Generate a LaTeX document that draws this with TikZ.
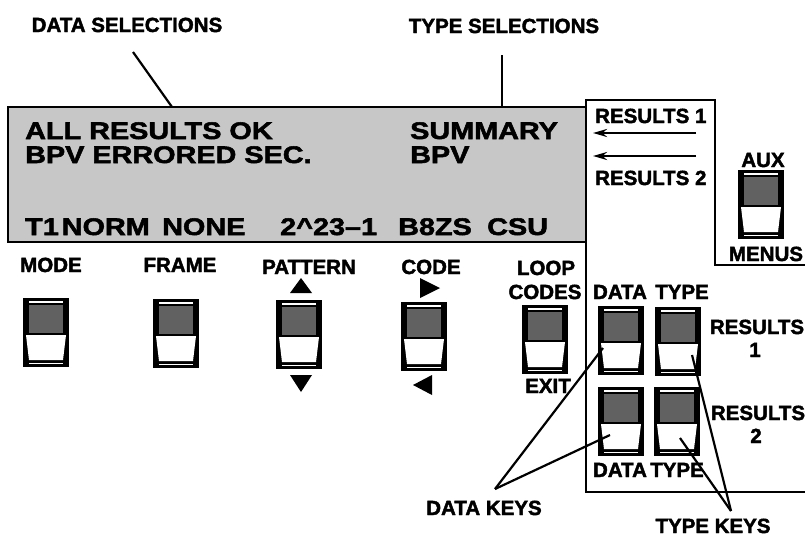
\documentclass[tikz,border=0pt]{standalone}
\usepackage{fontspec}
\newfontfamily\labfont{Liberation Sans}[BoldFeatures={FakeBold=2}]
\newfontfamily\dispfont{Liberation Sans}[FakeStretch=1.2, BoldFeatures={FakeBold=2.2}]
\usetikzlibrary{arrows.meta}
\begin{document}
\begin{tikzpicture}[x=1pt,y=-1pt,
  lab/.style={font=\labfont\bfseries\fontsize{20.5}{24}\selectfont, inner sep=0pt, anchor=base},
  disp/.style={font=\dispfont\bfseries\fontsize{24}{28}\selectfont, inner sep=0pt, anchor=base west},
  ldr/.style={line width=2.2pt},
  panelline/.style={line width=2.5pt},
  resarrow/.style={line width=2.5pt, -{Stealth[length=14pt,width=8pt]}},
  pics/keybtn/.style={code={
    \fill[black] (0,0) rectangle (46,69);
    \fill[black!62] (6,7) rectangle (40,35);
    \draw[white, line width=1.2pt] (6,4) -- (40,4);
    \fill[white] (3,37) -- (43,37) -- (40,62) -- (6,62) -- cycle;
    \draw[white, line width=1.2pt] (6,65.5) -- (40,65.5);
    \coordinate (-c) at (23,34.5);
  }}
]
\useasboundingbox (0,0) rectangle (805,536);

% display
\node[draw, fill=black!22, panelline, minimum width=578pt, minimum height=135pt, inner sep=0pt] (display) at (297,174.5) {};
\node[disp] (l1a) at (25,139) {ALL RESULTS OK};
\node[disp] (l1b) at (410,139) {SUMMARY};
\node[disp] (l2a) at (25,163) {BPV ERRORED SEC.};
\node[disp] (l2b) at (410,163) {BPV};
\node[disp] (l3a) at (25,235) {T1\kern3pt NORM};
\node[disp] (l3b) at (162,235) {NONE};
\node[disp] (l3c) at (280,235) {2\textasciicircum 23–1};
\node[disp] (l3d) at (398,235) {B8ZS};
\node[disp] (l3e) at (487,235) {CSU};

% right panel outline
\fill[white] (586,100) rectangle (715,265);
\draw[panelline] (805,492) -- (586,492) -- (586,100) -- (715,100) -- (715,265) -- (805,265);

% top labels and leaders
\node[lab] (dsel) at (127,32) {DATA SELECTIONS};
\node[lab] (tsel) at (504,33) {TYPE SELECTIONS};
\coordinate (dselA) at (133,52);
\coordinate (dselB) at (172,107);
\coordinate (tselA) at (502,55);
\coordinate (tselB) at (502,107);
\draw[ldr] (dselA) -- (dselB);
\draw[ldr] (tselA) -- (tselB);

% results box
\node[lab, anchor=base west] (res1) at (595,123) {RESULTS 1};
\node[lab, anchor=base west] (res2) at (595,185) {RESULTS 2};
\coordinate (a1s) at (696,133);
\coordinate (a1e) at (593,133);
\coordinate (a2s) at (696,156);
\coordinate (a2e) at (593,156);
\draw[resarrow] (a1s) -- (a1e);
\draw[resarrow] (a2s) -- (a2e);

% aux
\node[lab] (aux) at (763,167) {AUX};
\pic (auxbtn) at (738,170) {keybtn};
\node[lab] (menus) at (766,261) {MENUS};

% front keys
\node[lab] (mode) at (51,272) {MODE};
\node[lab] (frame) at (180,272) {FRAME};
\node[lab] (pattern) at (309,274) {PATTERN};
\node[lab] (code) at (431,274) {CODE};
\node[lab] (loop) at (546,275) {LOOP};
\node[lab] (codes) at (545,299) {CODES};
\node[lab] (exit) at (548,393) {EXIT};

\pic (modebtn) at (23,298) {keybtn};
\pic (framebtn) at (153,299) {keybtn};
\pic (patbtn) at (276,300) {keybtn};
\pic (codebtn) at (401,302) {keybtn};
\pic (loopbtn) at (522,305) {keybtn};

\fill (290,293) -- (312,293) -- (301,278) -- cycle;
\fill (290,375) -- (312,375) -- (301,392) -- cycle;
\fill (420,278) -- (440,288) -- (420,298) -- cycle;
\fill (432,375) -- (413,385) -- (432,395) -- cycle;

% results keys
\node[lab] (dtop) at (620,299) {DATA};
\node[lab] (ttop) at (682,299) {TYPE};
\pic (data1) at (598,306) {keybtn};
\pic (type1) at (655,307) {keybtn};
\pic (data2) at (598,387) {keybtn};
\pic (type2) at (654,387) {keybtn};
\node[lab] (dbot) at (620,477) {DATA};
\node[lab] (tbot) at (677,477) {TYPE};
\node[lab] (r1a) at (757,334) {RESULTS};
\node[lab] (r1b) at (755,357) {1};
\node[lab] (r2a) at (758,420) {RESULTS};
\node[lab] (r2b) at (756,443) {2};

% key leaders
\node[lab] (dkeys) at (484,515) {DATA KEYS};
\node[lab] (tkeys) at (713,533) {TYPE KEYS};
\coordinate (dk) at (495,489);
\coordinate (tk) at (731,511);
\coordinate (d1tip) at (603,348);
\coordinate (d2tip) at (610,435);
\coordinate (t1tip) at (692,355);
\coordinate (t2tip) at (680,438);
\draw[ldr] (dk) -- (d1tip);
\draw[ldr] (dk) -- (d2tip);
\draw[ldr] (tk) -- (t1tip);
\draw[ldr] (tk) -- (t2tip);
\end{tikzpicture}
\end{document}
